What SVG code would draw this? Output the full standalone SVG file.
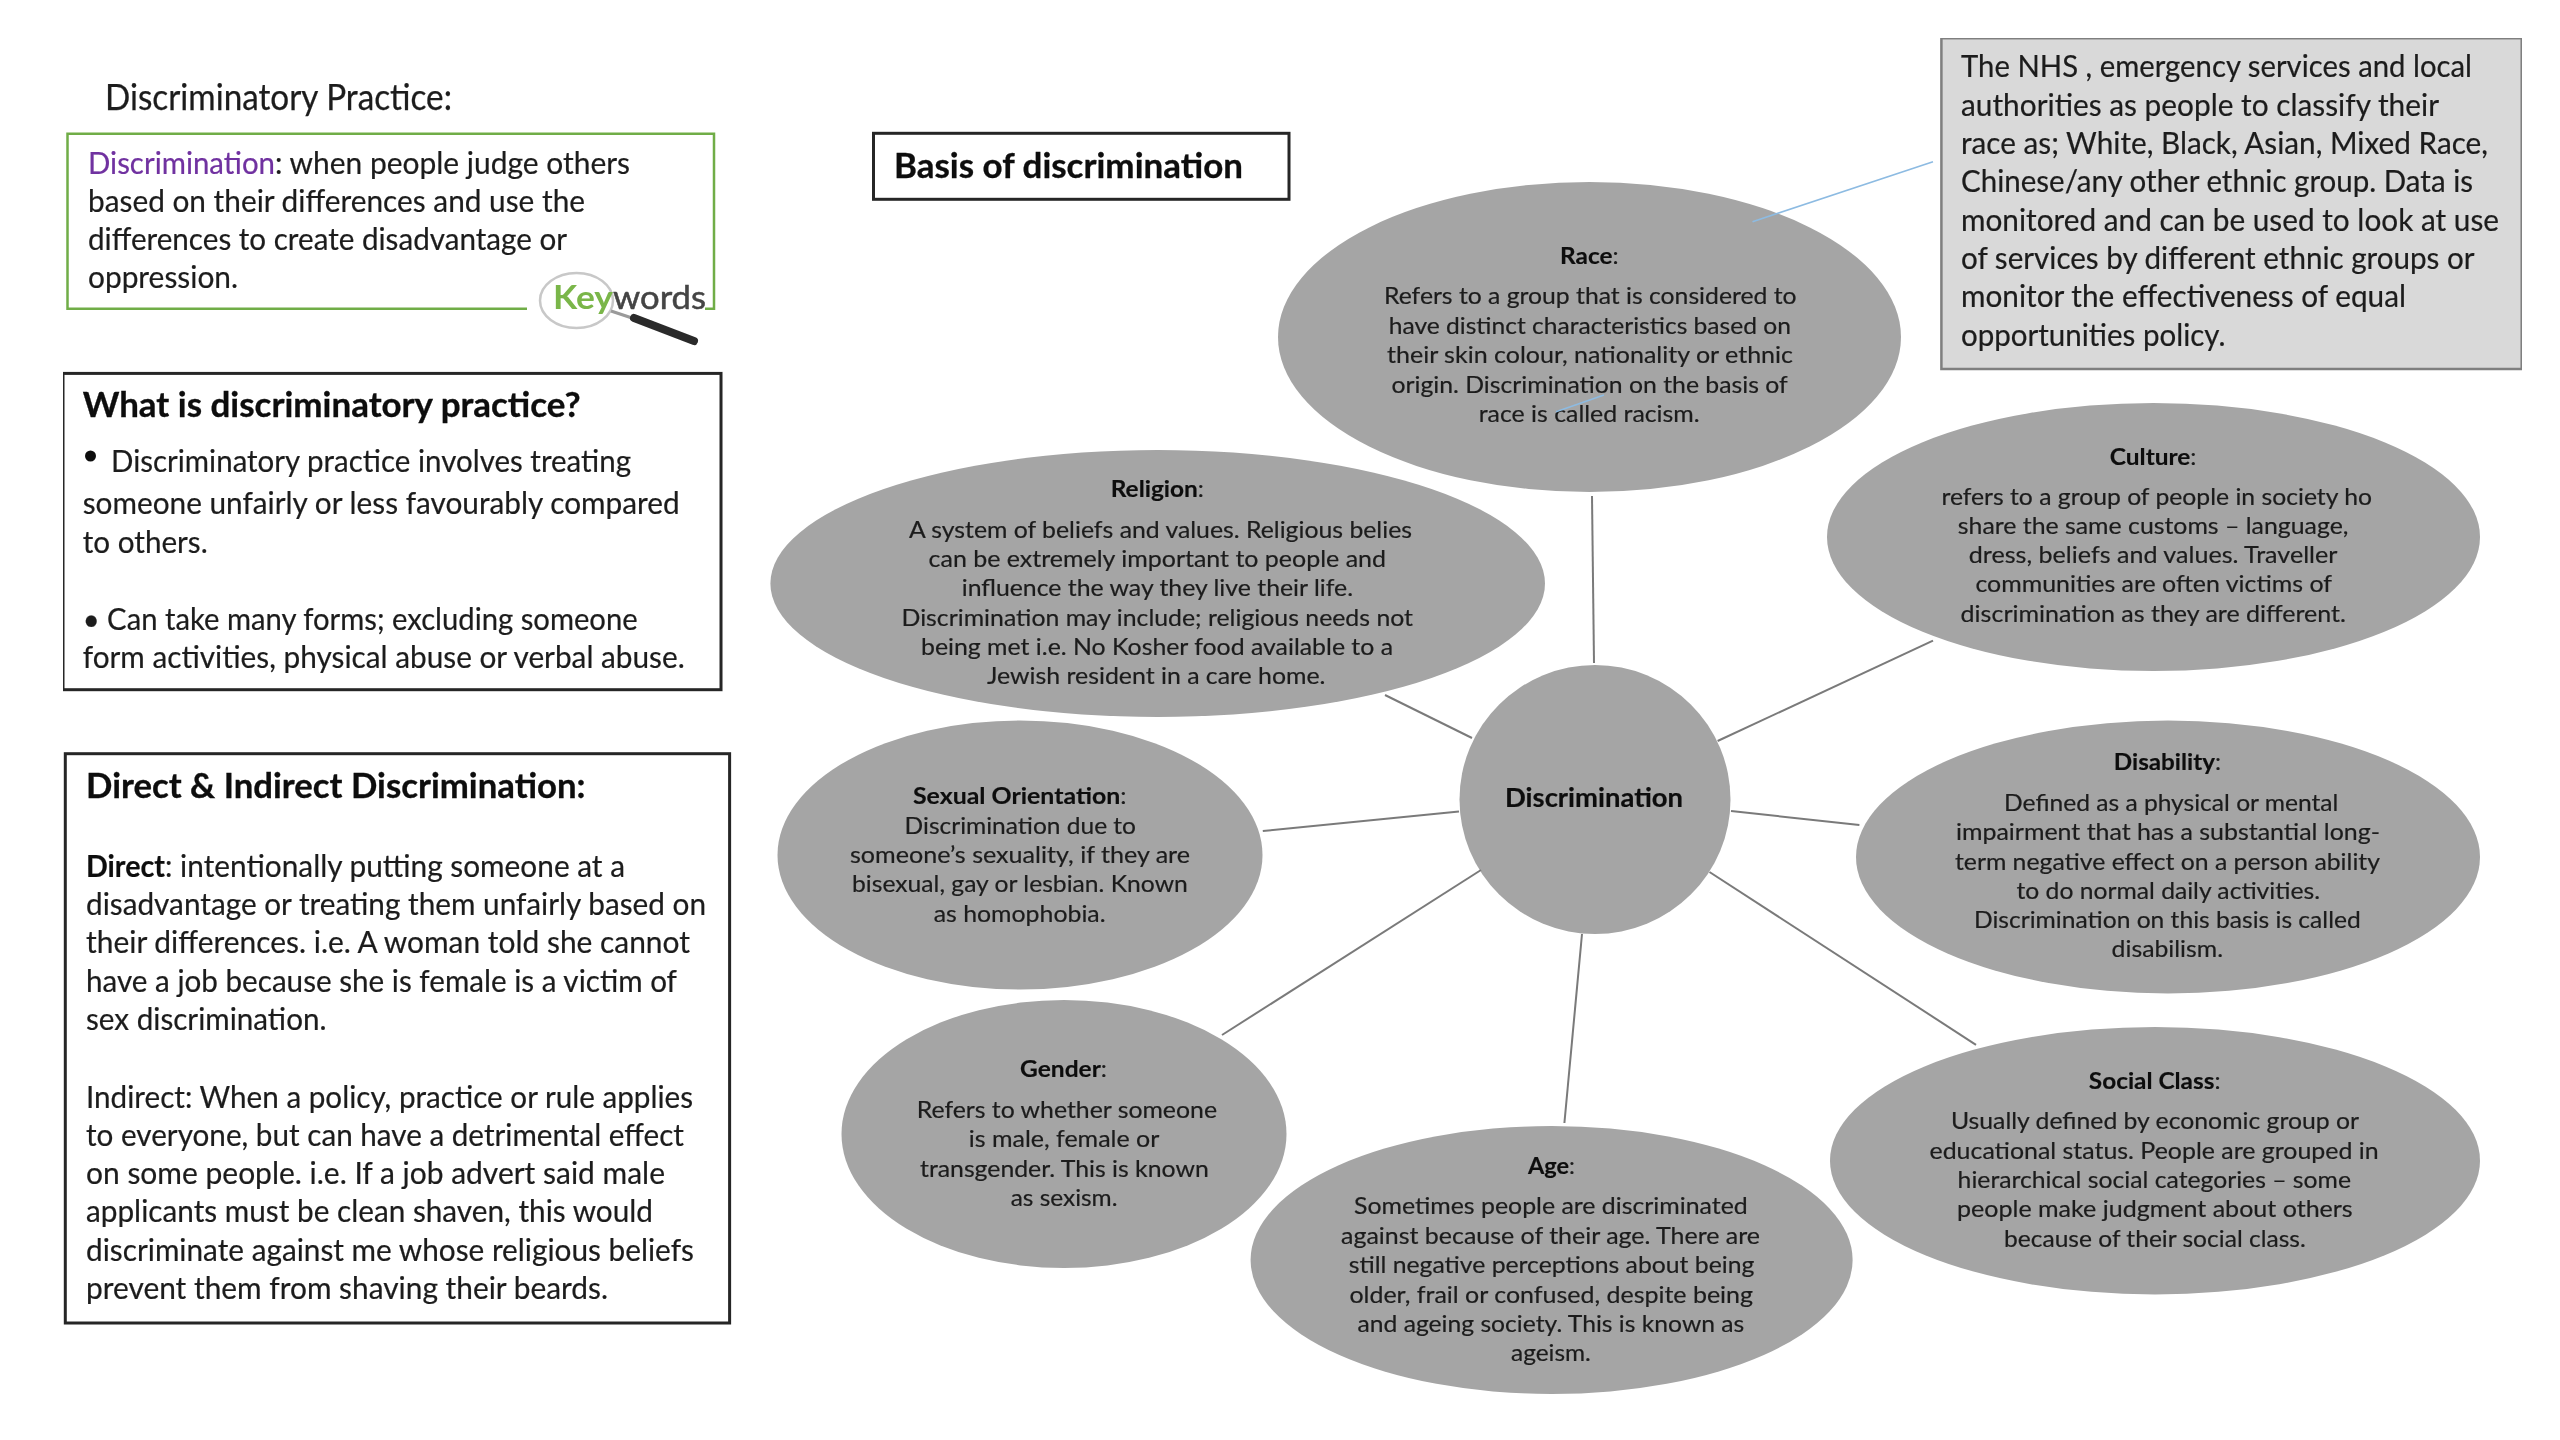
<svg xmlns="http://www.w3.org/2000/svg" width="2560" height="1440" viewBox="0 0 2560 1440">
<style>
text{font-family:Lato,"Liberation Sans",sans-serif;fill:#1c1c1c}
.b{font-size:30px;stroke:#1c1c1c;stroke-width:.2}
.h{font-size:33.5px;font-weight:700;fill:#0d0d0d;stroke:#0d0d0d;stroke-width:.3}
.s{font-size:23px;stroke:#1c1c1c;stroke-width:.2}
.t{font-size:23px;stroke:#0d0d0d;stroke-width:.15}
.t tspan{font-weight:700;fill:#0d0d0d}
.box{fill:#fff;stroke:#262626;stroke-width:3}
.bub{fill:#a5a5a5}
.con{stroke:#7a7a7a;stroke-width:2;fill:none}
.blue{stroke:#8dbbe2;stroke-width:1.6;fill:none}
</style>
<defs><filter id="soft" x="0" y="0" width="100%" height="100%"><feGaussianBlur stdDeviation="0.6"/></filter></defs>
<rect width="2560" height="1440" fill="#fff"/>
<g filter="url(#soft)">
<g id="title"><text x="105" y="110" font-size="36" textLength="347" lengthAdjust="spacingAndGlyphs" style="stroke:#1c1c1c;stroke-width:.25">Discriminatory Practice:</text></g>
<g id="keyword-box">
<path d="M527 308.7H67.5V133.7H714V308.7H705" fill="#fff" stroke="#70ad47" stroke-width="2.5"/>
<text class="b" x="88" y="173.5" textLength="187" lengthAdjust="spacingAndGlyphs" style="fill:#7030a0;stroke:#7030a0">Discrimination</text>
<text class="b" x="275" y="173.5" textLength="355" lengthAdjust="spacingAndGlyphs">: when people judge others</text>
<text class="b" x="88" y="211.7" textLength="497" lengthAdjust="spacingAndGlyphs">based on their differences and use the</text>
<text class="b" x="88" y="249.8" textLength="479" lengthAdjust="spacingAndGlyphs">differences to create disadvantage or</text>
<text class="b" x="88" y="288.4" textLength="150" lengthAdjust="spacingAndGlyphs">oppression.</text>
</g>
<g id="keywords-badge">
<ellipse cx="576.5" cy="300.5" rx="36.5" ry="27.5" fill="#fff" stroke="#c8c8c8" stroke-width="2.5"/>
<path d="M611 311L632 318" stroke="#9a9a9a" stroke-width="3" fill="none"/>
<path d="M634 318L694 341" stroke="#2b2b2b" stroke-width="8" stroke-linecap="round" fill="none"/>
<text x="553" y="309" font-size="33" font-weight="700" textLength="60" lengthAdjust="spacingAndGlyphs" style="fill:#7ab648">Key</text>
<text x="613" y="309" font-size="33" textLength="93" lengthAdjust="spacingAndGlyphs" style="fill:#444;stroke:#444;stroke-width:.5">words</text>
</g>
<g id="what-box">
<rect class="box" x="63" y="373.4" width="658" height="316.3"/>
<text class="h" x="82.7" y="417" textLength="498" lengthAdjust="spacingAndGlyphs">What is discriminatory practice?</text>
<circle cx="90.5" cy="456" r="5.5" fill="#111"/>
<text class="b" x="111" y="472" textLength="520" lengthAdjust="spacingAndGlyphs">Discriminatory practice involves treating</text>
<text class="b" x="82.7" y="514.3" textLength="597" lengthAdjust="spacingAndGlyphs">someone unfairly or less favourably compared</text>
<text class="b" x="82.7" y="553" textLength="125" lengthAdjust="spacingAndGlyphs">to others.</text>
<text class="b" x="82.7" y="629.6" textLength="555" lengthAdjust="spacingAndGlyphs">• Can take many forms; excluding someone</text>
<text class="b" x="82.7" y="667.7" textLength="602" lengthAdjust="spacingAndGlyphs">form activities, physical abuse or verbal abuse.</text>
</g>
<g id="direct-box">
<rect class="box" x="65.3" y="753.7" width="664.3" height="569.3"/>
<text class="h" x="86" y="798" textLength="499.5" lengthAdjust="spacingAndGlyphs">Direct &amp; Indirect Discrimination:</text>
<text class="b" x="86" y="877" textLength="79" lengthAdjust="spacingAndGlyphs" style="font-weight:700;fill:#0d0d0d">Direct</text>
<text class="b" x="165" y="877" textLength="460" lengthAdjust="spacingAndGlyphs">: intentionally putting someone at a</text>
<text class="b" x="86" y="915" textLength="620" lengthAdjust="spacingAndGlyphs">disadvantage or treating them unfairly based on</text>
<text class="b" x="86" y="953.4" textLength="604" lengthAdjust="spacingAndGlyphs">their differences. i.e. A woman told she cannot</text>
<text class="b" x="86" y="991.8" textLength="591" lengthAdjust="spacingAndGlyphs">have a job because she is female is a victim of</text>
<text class="b" x="86" y="1030" textLength="240.5" lengthAdjust="spacingAndGlyphs">sex discrimination.</text>
<text class="b" x="86" y="1107.6" textLength="607" lengthAdjust="spacingAndGlyphs">Indirect: When a policy, practice or rule applies</text>
<text class="b" x="86" y="1146" textLength="598" lengthAdjust="spacingAndGlyphs">to everyone, but can have a detrimental effect</text>
<text class="b" x="86" y="1184" textLength="579" lengthAdjust="spacingAndGlyphs">on some people. i.e. If a job advert said male</text>
<text class="b" x="86" y="1222.3" textLength="567" lengthAdjust="spacingAndGlyphs">applicants must be clean shaven, this would</text>
<text class="b" x="86" y="1260.6" textLength="608" lengthAdjust="spacingAndGlyphs">discriminate against me whose religious beliefs</text>
<text class="b" x="86" y="1299.4" textLength="522" lengthAdjust="spacingAndGlyphs">prevent them from shaving their beards.</text>
</g>
<g id="basis-box">
<rect class="box" x="873.5" y="133.3" width="415.5" height="66"/>
<text class="h" x="894" y="178" textLength="349" lengthAdjust="spacingAndGlyphs">Basis of discrimination</text>
</g>
<g id="nhs-note">
<rect x="1941.4" y="38.2" width="580.3" height="330.8" fill="#d9d9d9" stroke="#7f7f7f" stroke-width="2.5"/>
<text class="b" x="1961" y="77.2" textLength="511" lengthAdjust="spacingAndGlyphs">The NHS , emergency services and local</text>
<text class="b" x="1961" y="115.8" textLength="478" lengthAdjust="spacingAndGlyphs">authorities as people to classify their</text>
<text class="b" x="1961" y="154" textLength="527" lengthAdjust="spacingAndGlyphs">race as; White, Black, Asian, Mixed Race,</text>
<text class="b" x="1961" y="192" textLength="512" lengthAdjust="spacingAndGlyphs">Chinese/any other ethnic group. Data is</text>
<text class="b" x="1961" y="230.6" textLength="538" lengthAdjust="spacingAndGlyphs">monitored and can be used to look at use</text>
<text class="b" x="1961" y="268.8" textLength="513.5" lengthAdjust="spacingAndGlyphs">of services by different ethnic groups or</text>
<text class="b" x="1961" y="307.3" textLength="445" lengthAdjust="spacingAndGlyphs">monitor the effectiveness of equal</text>
<text class="b" x="1961" y="345.5" textLength="264.5" lengthAdjust="spacingAndGlyphs">opportunities policy.</text>
</g>
<g id="race">
<ellipse class="bub" cx="1589.5" cy="337" rx="311.5" ry="155"/>
<text class="t" x="1560" y="264.3" textLength="58.6" lengthAdjust="spacingAndGlyphs"><tspan>Race</tspan>:</text>
<text class="s" x="1384" y="304.3" textLength="412.5" lengthAdjust="spacingAndGlyphs">Refers to a group that is considered to</text>
<text class="s" x="1388.7" y="334" textLength="402.3" lengthAdjust="spacingAndGlyphs">have distinct characteristics based on</text>
<text class="s" x="1387" y="363.3" textLength="406" lengthAdjust="spacingAndGlyphs">their skin colour, nationality or ethnic</text>
<text class="s" x="1391.4" y="392.7" textLength="396.3" lengthAdjust="spacingAndGlyphs">origin. Discrimination on the basis of</text>
<text class="s" x="1478.7" y="421.7" textLength="221" lengthAdjust="spacingAndGlyphs">race is called racism.</text>
</g>
<g id="culture">
<ellipse class="bub" cx="2153.5" cy="537" rx="326.5" ry="134"/>
<text class="t" x="2109.8" y="464.9" textLength="86.6" lengthAdjust="spacingAndGlyphs"><tspan>Culture</tspan>:</text>
<text class="s" x="1941.4" y="505" textLength="430.6" lengthAdjust="spacingAndGlyphs">refers to a group of people in society ho</text>
<text class="s" x="1957.8" y="534" textLength="390.6" lengthAdjust="spacingAndGlyphs">share the same customs – language,</text>
<text class="s" x="1968.8" y="563" textLength="368.6" lengthAdjust="spacingAndGlyphs">dress, beliefs and values. Traveller</text>
<text class="s" x="1975.4" y="592" textLength="356.6" lengthAdjust="spacingAndGlyphs">communities are often victims of</text>
<text class="s" x="1960.6" y="622" textLength="385.4" lengthAdjust="spacingAndGlyphs">discrimination as they are different.</text>
</g>
<g id="religion">
<ellipse class="bub" cx="1157.7" cy="583.5" rx="387.3" ry="133.5"/>
<text class="t" x="1110.7" y="497" textLength="93.3" lengthAdjust="spacingAndGlyphs"><tspan>Religion</tspan>:</text>
<text class="s" x="909" y="538" textLength="503" lengthAdjust="spacingAndGlyphs">A system of beliefs and values. Religious belies</text>
<text class="s" x="928.6" y="567" textLength="457.4" lengthAdjust="spacingAndGlyphs">can be extremely important to people and</text>
<text class="s" x="961.7" y="596" textLength="391.3" lengthAdjust="spacingAndGlyphs">influence the way they live their life.</text>
<text class="s" x="901.5" y="625.5" textLength="511.5" lengthAdjust="spacingAndGlyphs">Discrimination may include; religious needs not</text>
<text class="s" x="921" y="655" textLength="472" lengthAdjust="spacingAndGlyphs">being met i.e. No Kosher food available to a</text>
<text class="s" x="987" y="684" textLength="338.5" lengthAdjust="spacingAndGlyphs">Jewish resident in a care home.</text>
</g>
<g id="sexual-orientation">
<ellipse class="bub" cx="1020" cy="855" rx="242.5" ry="134.5"/>
<text class="t" x="913" y="804.3" textLength="213.5" lengthAdjust="spacingAndGlyphs"><tspan>Sexual Orientation</tspan>:</text>
<text class="s" x="904.6" y="833.7" textLength="231.4" lengthAdjust="spacingAndGlyphs">Discrimination due to</text>
<text class="s" x="850" y="863" textLength="340" lengthAdjust="spacingAndGlyphs">someone’s sexuality, if they are</text>
<text class="s" x="852" y="892" textLength="335.8" lengthAdjust="spacingAndGlyphs">bisexual, gay or lesbian. Known</text>
<text class="s" x="933.7" y="921.8" textLength="171.9" lengthAdjust="spacingAndGlyphs">as homophobia.</text>
</g>
<g id="discrimination">
<ellipse class="bub" cx="1595" cy="799.5" rx="135.5" ry="134.5"/>
<text x="1505" y="807" font-size="26.5" font-weight="700" textLength="178" lengthAdjust="spacingAndGlyphs" style="fill:#0d0d0d;stroke:#0d0d0d;stroke-width:.2">Discrimination</text>
</g>
<g id="disability">
<ellipse class="bub" cx="2168" cy="857" rx="312" ry="136.4"/>
<text class="t" x="2113.8" y="770" textLength="107.2" lengthAdjust="spacingAndGlyphs"><tspan>Disability</tspan>:</text>
<text class="s" x="2004" y="811" textLength="334.4" lengthAdjust="spacingAndGlyphs">Defined as a physical or mental</text>
<text class="s" x="1956" y="840" textLength="424" lengthAdjust="spacingAndGlyphs">impairment that has a substantial long-</text>
<text class="s" x="1955" y="870" textLength="425" lengthAdjust="spacingAndGlyphs">term negative effect on a person ability</text>
<text class="s" x="2016.5" y="899" textLength="303.5" lengthAdjust="spacingAndGlyphs">to do normal daily activities.</text>
<text class="s" x="1974" y="928" textLength="386.7" lengthAdjust="spacingAndGlyphs">Discrimination on this basis is called</text>
<text class="s" x="2111.6" y="957" textLength="111.4" lengthAdjust="spacingAndGlyphs">disabilism.</text>
</g>
<g id="social-class">
<ellipse class="bub" cx="2155" cy="1160.7" rx="325" ry="133.7"/>
<text class="t" x="2088.8" y="1088.5" textLength="131.7" lengthAdjust="spacingAndGlyphs"><tspan>Social Class</tspan>:</text>
<text class="s" x="1951" y="1129" textLength="408" lengthAdjust="spacingAndGlyphs">Usually defined by economic group or</text>
<text class="s" x="1929.5" y="1159" textLength="449.1" lengthAdjust="spacingAndGlyphs">educational status. People are grouped in</text>
<text class="s" x="1957.6" y="1188" textLength="393.4" lengthAdjust="spacingAndGlyphs">hierarchical social categories – some</text>
<text class="s" x="1957" y="1217" textLength="395.7" lengthAdjust="spacingAndGlyphs">people make judgment about others</text>
<text class="s" x="2004" y="1246.6" textLength="301.8" lengthAdjust="spacingAndGlyphs">because of their social class.</text>
</g>
<g id="age">
<ellipse class="bub" cx="1551.6" cy="1260" rx="301" ry="134"/>
<text class="t" x="1528" y="1174" textLength="47" lengthAdjust="spacingAndGlyphs"><tspan>Age</tspan>:</text>
<text class="s" x="1354" y="1214.3" textLength="393.7" lengthAdjust="spacingAndGlyphs">Sometimes people are discriminated</text>
<text class="s" x="1341" y="1244" textLength="419" lengthAdjust="spacingAndGlyphs">against because of their age. There are</text>
<text class="s" x="1348.7" y="1273.3" textLength="405.7" lengthAdjust="spacingAndGlyphs">still negative perceptions about being</text>
<text class="s" x="1349.4" y="1302.7" textLength="403.6" lengthAdjust="spacingAndGlyphs">older, frail or confused, despite being</text>
<text class="s" x="1357.5" y="1332" textLength="386.8" lengthAdjust="spacingAndGlyphs">and ageing society. This is known as</text>
<text class="s" x="1511" y="1361" textLength="79.8" lengthAdjust="spacingAndGlyphs">ageism.</text>
</g>
<g id="gender">
<ellipse class="bub" cx="1064" cy="1134" rx="222.5" ry="134"/>
<text class="t" x="1020" y="1077" textLength="87" lengthAdjust="spacingAndGlyphs"><tspan>Gender</tspan>:</text>
<text class="s" x="916.7" y="1117.7" textLength="300.3" lengthAdjust="spacingAndGlyphs">Refers to whether someone</text>
<text class="s" x="968.7" y="1146.7" textLength="190.7" lengthAdjust="spacingAndGlyphs">is male, female or</text>
<text class="s" x="920" y="1176.7" textLength="288.8" lengthAdjust="spacingAndGlyphs">transgender. This is known</text>
<text class="s" x="1010.7" y="1206" textLength="106.8" lengthAdjust="spacingAndGlyphs">as sexism.</text>
</g>
<g id="connectors">
<line class="con" x1="1592" y1="496" x2="1594" y2="663"/>
<line class="con" x1="1385" y1="695" x2="1472" y2="738"/>
<line class="con" x1="1262.8" y1="831" x2="1459" y2="811.5"/>
<line class="con" x1="1481" y1="870" x2="1222" y2="1035"/>
<line class="con" x1="1582" y1="934" x2="1564.4" y2="1123"/>
<line class="con" x1="1709.5" y1="872" x2="1976" y2="1044.8"/>
<line class="con" x1="1731" y1="811" x2="1859.4" y2="825"/>
<line class="con" x1="1717.6" y1="741" x2="1933" y2="640.6"/>
<line class="blue" x1="1933" y1="161.8" x2="1752.5" y2="221.7"/>
<line class="blue" x1="1556" y1="411.7" x2="1604" y2="395"/>
</g>
</g>
</svg>
